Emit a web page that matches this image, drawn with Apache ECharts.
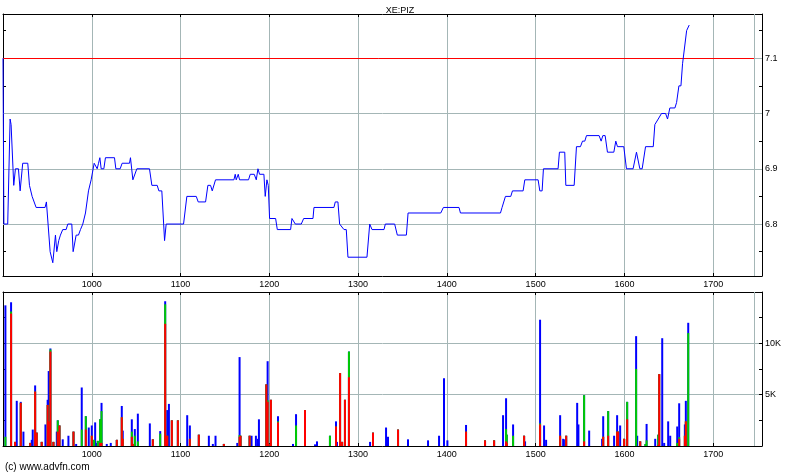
<!DOCTYPE html>
<html><head><meta charset="utf-8">
<script src="https://cdn.jsdelivr.net/npm/echarts@6/dist/echarts.min.js"></script>
<style>html,body{margin:0;padding:0;background:#fff}#c{width:800px;height:475px}</style>
</head><body><div id="c"></div>
<script>
// ---- data ----
const chartTitle = 'XE:PIZ';
const footerText = '(c) www.advfn.com';
const xTicks = [1000, 1100, 1200, 1300, 1400, 1500, 1600, 1700];
const sessionEnd = 1746;
const priceTicks = [6.8, 6.9, 7.0, 7.1];
const priceTickLabels = ['6.8', '6.9', '7', '7.1'];
const priceMinorTicks = [6.75, 6.85, 6.95, 7.05, 7.15];
const refPrice = 7.1;
const volTicks = [5000, 10000];
const volTickLabels = ['5K', '10K'];

const priceTimes = [
  900, 901, 905.3, 908, 909.1, 911, 912.1, 914, 917.4, 919.3,
  921.1, 922.2, 927.9, 929.8, 931.3, 932.8, 935, 937.3, 947.4, 948.9,
  953.1, 956.1, 957.2, 959.1, 960.6, 962.8, 964.7, 967.3, 971.1, 973,
  977.5, 979, 980.9, 982.4, 985, 987.3, 989.9, 992.9, 994.4, 996.3,
  997.4, 999.3, 1000.8, 1002.7, 1004.9, 1006.1, 1007.6, 1009.1, 1010.6, 1013.6,
  1015.4, 1025.6, 1027.1, 1032, 1034.2, 1042.5, 1043.6, 1046.3, 1048.1, 1050.8,
  1065, 1067.7, 1073.7, 1075.6, 1078.9, 1082, 1083.8, 1103.4, 1107.1, 1117.7,
  1119.9, 1128.2, 1130.8, 1133.8, 1135.7, 1137.2, 1139.4, 1160.1, 1161.6, 1162.7,
  1165, 1166.5, 1176.6, 1178.5, 1183, 1185.3, 1187.2, 1189, 1193.9, 1195.4,
  1197.3, 1198.8, 1200.3, 1207.1, 1209, 1224, 1225.5, 1227.4, 1229.3, 1236,
  1238.7, 1249.2, 1250.3, 1272.8, 1274.3, 1277.3, 1279.2, 1281.1, 1284.1, 1286.7,
  1288.6, 1310, 1313.1, 1315.7, 1329.2, 1330.7, 1341.2, 1344.2, 1354.4, 1356.3,
  1393.1, 1396.1, 1413.7, 1415.3, 1460.4, 1462.2, 1466, 1472, 1473.9, 1485.9,
  1487.8, 1502.8, 1504.7, 1507.3, 1508.8, 1525.3, 1526.8, 1532.8, 1534, 1543.4,
  1546, 1550.5, 1552.8, 1555.4, 1557.3, 1571.5, 1573.8, 1575.7, 1578.3, 1580.9,
  1588.1, 1590.3, 1592.2, 1599.3, 1602.3, 1609.8, 1613.6, 1615.5, 1617.4, 1620,
  1623.8, 1632.5, 1634.3, 1638.1, 1640, 1641.8, 1646.4, 1648.6, 1651.2, 1656.9,
  1658.8, 1661.4, 1663.7, 1665.5, 1667.4, 1670.1, 1671.9, 1673
];
const priceValues = [
  7.10, 6.80, 6.80, 6.99, 6.98, 6.98, 6.87, 6.90, 6.90, 6.86,
  6.86, 6.91, 6.91, 6.87, 6.87, 6.85, 6.85, 6.83, 6.83, 6.84,
  6.75, 6.73, 6.73, 6.78, 6.75, 6.77, 6.78, 6.79, 6.79, 6.80,
  6.80, 6.75, 6.75, 6.78, 6.78, 6.79, 6.80, 6.82, 6.82, 6.86,
  6.86, 6.88, 6.88, 6.91, 6.91, 6.90, 6.91, 6.92, 6.90, 6.90,
  6.92, 6.92, 6.90, 6.90, 6.91, 6.91, 6.92, 6.88, 6.88, 6.90,
  6.90, 6.87, 6.87, 6.86, 6.86, 6.77, 6.80, 6.80, 6.85, 6.85,
  6.84, 6.84, 6.87, 6.87, 6.86, 6.86, 6.88, 6.88, 6.89, 6.88,
  6.89, 6.88, 6.88, 6.89, 6.89, 6.88, 6.90, 6.89, 6.89, 6.85,
  6.88, 6.87, 6.81, 6.81, 6.79, 6.79, 6.81, 6.81, 6.80, 6.80,
  6.81, 6.81, 6.83, 6.83, 6.84, 6.84, 6.80, 6.80, 6.79, 6.79,
  6.74, 6.74, 6.80, 6.79, 6.79, 6.80, 6.80, 6.78, 6.78, 6.82,
  6.82, 6.83, 6.83, 6.82, 6.82, 6.83, 6.85, 6.85, 6.86, 6.86,
  6.88, 6.88, 6.86, 6.86, 6.90, 6.90, 6.93, 6.93, 6.87, 6.87,
  6.94, 6.94, 6.95, 6.95, 6.96, 6.96, 6.95, 6.96, 6.96, 6.93,
  6.93, 6.95, 6.94, 6.94, 6.90, 6.90, 6.93, 6.93, 6.90, 6.90,
  6.94, 6.94, 6.98, 6.99, 6.99, 7.00, 7.00, 6.99, 7.01, 7.01,
  7.02, 7.05, 7.05, 7.09, 7.09, 7.15, 7.15, 7.16
];

const volTimes = [
  902.7, 909.1, 913.6, 915.5, 920, 923, 930.6, 932.4, 933.5, 936.2,
  938, 943.6, 947.8, 950.3, 951.5, 953.4, 956.8, 960.6, 961.7, 963.6,
  967.3, 973.7, 979.4, 982.4, 988.7, 993.3, 996.6, 1000, 1002.7, 1003.8,
  1005.6, 1006.8, 1009.4, 1011, 1016.9, 1021.4, 1028.2, 1033.8, 1034.9, 1045.1,
  1046.2, 1048.5, 1051.9, 1065.4, 1068.8, 1077.1, 1082.7, 1083.8, 1085, 1086.9,
  1090.2, 1097, 1107.5, 1110.5, 1120.6, 1131.9, 1136.4, 1139.4, 1148.8, 1163.9,
  1166.5, 1167.6, 1177.8, 1180, 1184.9, 1187.2, 1188.3, 1196.6, 1198.1, 1199.2,
  1201.8, 1209.8, 1226.7, 1230.1, 1240.2, 1251.5, 1253.7, 1268.3, 1275.1, 1276.2,
  1279.7, 1282, 1285.2, 1289.7, 1313.5, 1316.8, 1331.5, 1333.7, 1345, 1356.2,
  1378.8, 1391.2, 1396.8, 1400.6, 1421.6, 1443, 1453.2, 1463.3, 1466.7, 1467.5,
  1474.6, 1487, 1488.1, 1505, 1509.5, 1511.8, 1527.6, 1531, 1533.2, 1534.4,
  1546.8, 1548.2, 1554.6, 1560.3, 1574.9, 1576.1, 1581.7, 1588.4, 1591.8, 1592.9,
  1595.2, 1599.7, 1603.1, 1613.2, 1614.4, 1617.8, 1623.7, 1625, 1634.7, 1638.1,
  1639.2, 1642.6, 1644.8, 1649.3, 1651.6, 1659.5, 1661.7, 1668.1, 1669.2, 1671.9
];
const volRed = [
  0, 12900, 400, 0, 4200, 0, 300, 0, 0, 5300,
  1300, 400, 0, 4000, 2400, 9200, 400, 0, 1400, 2000,
  0, 0, 1400, 0, 0, 1600, 0, 1000, 0, 0,
  0, 0, 300, 300, 0, 0, 600, 2800, 700, 900,
  200, 0, 0, 0, 650, 0, 11900, 1000, 1000, 0,
  2500, 2500, 0, 700, 1100, 0, 0, 0, 200, 0,
  900, 1000, 1000, 0, 0, 0, 0, 6000, 4300, 200,
  4500, 2300, 0, 0, 3500, 0, 0, 0, 1900, 0,
  7100, 400, 4500, 6700, 0, 1300, 0, 0, 1600, 0,
  0, 0, 0, 0, 1400, 550, 550, 0, 450, 300,
  0, 1000, 0, 2100, 0, 0, 1000, 0, 0, 1000,
  0, 0, 450, 0, 0, 900, 1000, 0, 1400, 1400,
  0, 700, 2600, 0, 0, 450, 0, 0, 0, 100,
  7000, 0, 0, 0, 0, 0, 700, 1000, 2400, 0
];
const volGreen = [
  900, 200, 0, 0, 0, 0, 0, 0, 0, 0,
  0, 0, 0, 0, 0, 200, 0, 0, 1100, 0,
  0, 0, 0, 0, 1600, 1300, 0, 0, 600, 0,
  0, 500, 2300, 3100, 0, 0, 0, 0, 0, 500,
  0, 1000, 450, 0, 0, 1200, 1900, 0, 0, 0,
  0, 0, 0, 0, 0, 0, 0, 0, 0, 0,
  160, 0, 0, 0, 0, 0, 0, 0, 160, 0,
  0, 100, 0, 2000, 0, 0, 0, 1000, 0, 0,
  0, 0, 0, 2500, 0, 0, 0, 0, 0, 0,
  0, 0, 0, 0, 0, 0, 0, 0, 1200, 800,
  1000, 0, 0, 100, 0, 0, 0, 0, 0, 0,
  0, 0, 4500, 0, 0, 0, 2400, 0, 0, 0,
  0, 0, 1700, 7500, 0, 0, 200, 550, 0, 1000,
  0, 0, 0, 0, 0, 300, 160, 0, 0, 11000
];
const volBlue = [
  12800, 900, 0, 4400, 100, 1400, 0, 600, 1600, 600,
  0, 0, 2100, 500, 4900, 100, 0, 1400, 0, 0,
  650, 1000, 0, 200, 4100, 0, 1800, 1000, 0, 2300,
  300, 0, 0, 800, 200, 300, 0, 1100, 800, 1200,
  0, 650, 2700, 2200, 0, 250, 300, 0, 2500, 4100,
  0, 0, 3000, 1300, 0, 1000, 200, 1000, 0, 300,
  7600, 0, 0, 1000, 1000, 700, 2600, 0, 3800, 0,
  0, 500, 200, 1100, 0, 160, 450, 0, 500, 400,
  0, 0, 0, 0, 400, 0, 1800, 900, 0, 650,
  550, 1000, 6600, 550, 650, 0, 0, 3000, 3000, 0,
  1100, 0, 450, 10100, 2000, 600, 2000, 700, 650, 0,
  4200, 2100, 0, 1500, 700, 2000, 0, 1000, 1600, 0,
  2000, 0, 0, 3200, 1000, 0, 0, 1600, 700, 0,
  0, 10500, 300, 2400, 1000, 1600, 3300, 1100, 2000, 1000
];

// ---- chart ----
const FONT = '"Liberation Sans", Arial, sans-serif';
const gridCol = '#a4b6b6';
const xMin = 900, xMax = 1755;
const pMin = 6.706, pMax = 7.18;
const vMax = 15000;

// cumulative tops of the stacked segments (red at bottom, then green, then blue)
const cumRed = volRed.slice();
const cumGreen = volRed.map((r, i) => r + volGreen[i]);
const cumBlue = cumGreen.map((g, i) => g + volBlue[i]);

const chart = echarts.init(document.getElementById('c'), null, {renderer: 'canvas'});

function xAxisCfg(grid, pos, labels) {
  return {
    type: 'value', gridIndex: grid, position: pos, min: xMin, max: xMax, interval: 100,
    axisLine: {show: true, onZero: false, lineStyle: {color: '#000', width: 1}},
    axisTick: {show: true, inside: true, length: 3, lineStyle: {color: '#000'}},
    axisLabel: {show: labels, color: '#000', fontSize: 9, fontFamily: FONT, margin: 4,
      formatter: v => xTicks.indexOf(v) >= 0 ? String(v) : ''},
    splitLine: {show: labels, lineStyle: {color: gridCol, width: 1}}
  };
}
function hLines(vals, color) {
  return vals.map(p => [{coord: [xMin, p], lineStyle: {color: color, width: 1, type: 'solid'}}, {coord: [xMax, p]}]);
}
function volSeries(name, tops, color) {
  return {type: 'bar', name: name, xAxisIndex: 2, yAxisIndex: 2, barWidth: 2, barGap: '-100%',
    data: volTimes.map((t, i) => [t, tops[i]]), itemStyle: {color: color}};
}

const blueS = volSeries('blue', cumBlue, '#0000ff');
blueS.markLine = {silent: true, symbol: ['none', 'none'], label: {show: false}, animation: false,
  data: [[{coord: [sessionEnd, 0], lineStyle: {color: gridCol, width: 1, type: 'solid'}}, {coord: [sessionEnd, vMax]}]]};

const option = {
  animation: false,
  backgroundColor: '#fff',
  title: {text: chartTitle, left: 'center', top: 1,
    textStyle: {fontSize: 9, fontWeight: 'normal', color: '#000', fontFamily: FONT}},
  graphic: [{type: 'text', left: 5, top: 462,
    style: {text: footerText, fill: '#000', fontSize: 10, fontFamily: FONT}}],
  grid: [
    {left: 3, top: 14, width: 759, height: 262, containLabel: false},
    {left: 3, top: 292, width: 759, height: 154, containLabel: false}
  ],
  xAxis: [
    xAxisCfg(0, 'bottom', true), xAxisCfg(0, 'top', false),
    xAxisCfg(1, 'bottom', true), xAxisCfg(1, 'top', false)
  ],
  yAxis: [
    {type: 'value', gridIndex: 0, position: 'right', min: pMin, max: pMax, scale: true,
      axisLine: {show: true, lineStyle: {color: '#000'}},
      axisTick: {show: true, inside: true, length: 3, lineStyle: {color: '#000'},
        customValues: priceTicks.concat(priceMinorTicks)},
      axisLabel: {show: true, color: '#000', fontSize: 9, fontFamily: FONT, margin: 3,
        customValues: priceTicks,
        formatter: v => { const i = priceTicks.findIndex(t => Math.abs(t - v) < 1e-6); return i >= 0 ? priceTickLabels[i] : ''; }},
      splitLine: {show: false}},
    {type: 'value', gridIndex: 0, position: 'left', min: pMin, max: pMax, scale: true,
      axisLine: {show: true, lineStyle: {color: '#000'}},
      axisTick: {show: true, inside: true, length: 3, lineStyle: {color: '#000'},
        customValues: priceTicks.concat(priceMinorTicks)},
      axisLabel: {show: false}, splitLine: {show: false}},
    {type: 'value', gridIndex: 1, position: 'right', min: 0, max: vMax, interval: 5000,
      axisLine: {show: true, lineStyle: {color: '#000'}},
      axisTick: {show: true, inside: true, length: 3, lineStyle: {color: '#000'}},
      minorTick: {show: true, splitNumber: 2, length: 3, lineStyle: {color: '#000'}},
      axisLabel: {show: true, color: '#000', fontSize: 9, fontFamily: FONT, margin: 3,
        formatter: v => { const i = volTicks.indexOf(v); return i >= 0 ? volTickLabels[i] : ''; }},
      splitLine: {show: true, lineStyle: {color: gridCol, width: 1}}},
    {type: 'value', gridIndex: 1, position: 'left', min: 0, max: vMax, interval: 2500,
      axisLine: {show: true, lineStyle: {color: '#000'}},
      axisTick: {show: true, inside: true, length: 3, lineStyle: {color: '#000'}},
      axisLabel: {show: false}, splitLine: {show: false}}
  ],
  series: [
    {type: 'line', xAxisIndex: 0, yAxisIndex: 0, showSymbol: false, symbol: 'none',
      data: priceTimes.map((t, i) => [t, priceValues[i]]),
      lineStyle: {color: '#0000ff', width: 1}, itemStyle: {color: '#0000ff'}, z: 5,
      markLine: {silent: true, symbol: ['none', 'none'], label: {show: false}, animation: false, z: 3,
        data: hLines(priceTicks, gridCol).concat([
          [{coord: [sessionEnd, pMin], lineStyle: {color: gridCol, width: 1, type: 'solid'}}, {coord: [sessionEnd, pMax]}],
          [{coord: [xMin, refPrice], lineStyle: {color: '#ff0000', width: 1, type: 'solid'}}, {coord: [sessionEnd, refPrice]}]
        ])}},
    blueS,
    volSeries('green', cumGreen, '#00cc00'),
    volSeries('red', cumRed, '#ff0000')
  ]
};
chart.setOption(option);
</script>
</body></html>
